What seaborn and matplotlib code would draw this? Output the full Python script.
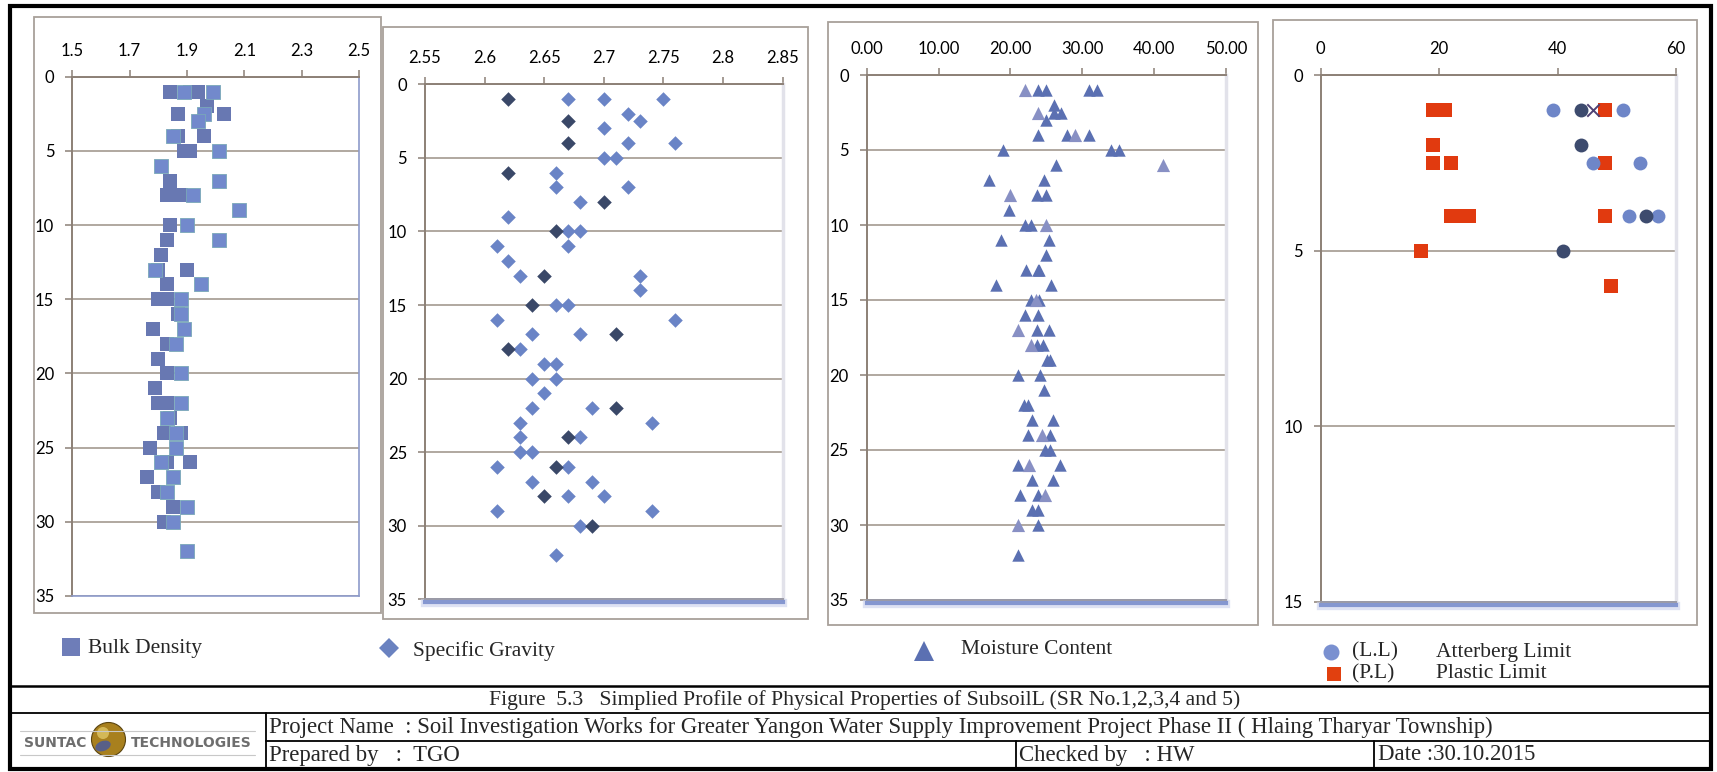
import numpy as np
import pandas as pd
import matplotlib
matplotlib.use("Agg")
import matplotlib.pyplot as plt
import seaborn as sns
from matplotlib.lines import Line2D
from matplotlib.patches import Rectangle, Circle, Ellipse
import matplotlib.patheffects as pe

# ---------------- DATA ----------------
# Bulk density (g/cm3) vs depth (m)
bd_dark_depth = [1, 1, 1, 2, 2.5, 2.5, 4, 4, 5, 5, 7, 8, 8, 10, 11, 12, 13, 13, 14, 15, 15, 16, 17,
                 18, 19, 20, 21, 22, 22, 23, 24, 24, 25, 26, 26, 27, 28, 29, 30]
bd_dark = [1.84, 1.91, 1.94, 1.97, 1.87, 2.03, 1.87, 1.96, 1.89, 1.91, 1.84, 1.83, 1.88, 1.84, 1.83,
           1.81, 1.80, 1.90, 1.83, 1.80, 1.83, 1.87, 1.78, 1.83, 1.80, 1.83, 1.79, 1.80, 1.83, 1.84,
           1.82, 1.88, 1.77, 1.83, 1.91, 1.76, 1.80, 1.85, 1.82]
bd_light_depth = [1, 1, 2.5, 3, 4, 5, 6, 7, 8, 9, 10, 11, 13, 14, 15, 16, 17, 18, 20, 22, 23, 24,
                  25, 26, 27, 28, 29, 30, 32]
bd_light = [1.89, 1.99, 1.96, 1.94, 1.85, 2.01, 1.81, 2.01, 1.92, 2.08, 1.90, 2.01, 1.79, 1.95,
            1.88, 1.88, 1.89, 1.86, 1.88, 1.88, 1.83, 1.86, 1.86, 1.81, 1.85, 1.83, 1.90, 1.85, 1.90]

# Specific gravity vs depth
sg_light_depth = [1, 1, 1, 2, 2.5, 3, 4, 4, 5, 5, 6, 7, 7, 8, 9, 10, 10, 11, 11, 12, 13, 13, 14,
                  15, 15, 16, 16, 17, 17, 18, 19, 19, 20, 20, 21, 22, 22, 23, 23, 24, 24, 25, 25,
                  26, 26, 27, 27, 28, 28, 29, 29, 30, 32]
sg_light = [2.67, 2.70, 2.75, 2.72, 2.73, 2.70, 2.72, 2.76, 2.70, 2.71, 2.66, 2.66, 2.72, 2.68,
            2.62, 2.67, 2.68, 2.61, 2.67, 2.62, 2.63, 2.73, 2.73, 2.66, 2.67, 2.61, 2.76, 2.64,
            2.68, 2.63, 2.65, 2.66, 2.64, 2.66, 2.65, 2.64, 2.69, 2.63, 2.74, 2.63, 2.68, 2.63,
            2.64, 2.61, 2.67, 2.64, 2.69, 2.67, 2.70, 2.61, 2.74, 2.68, 2.66]
sg_dark_depth = [1, 2.5, 4, 6, 8, 10, 13, 15, 17, 18, 22, 24, 26, 28, 30]
sg_dark = [2.62, 2.67, 2.67, 2.62, 2.70, 2.66, 2.65, 2.64, 2.71, 2.62, 2.71, 2.67, 2.66, 2.65, 2.69]

# Moisture content (%) vs depth
mc_main_depth = [1, 1, 1, 1, 2, 2.5, 2.5, 3, 4, 4, 4, 5, 5, 5, 6, 7, 7, 8, 8, 9, 10, 10, 11, 11,
                 12, 13, 13, 13, 14, 14, 15, 15, 16, 16, 17, 17, 18, 18, 19, 19, 20, 20, 21, 22,
                 22, 23, 23, 24, 24, 25, 25, 26, 26, 27, 27, 28, 28, 29, 29, 30, 32]
mc_main = [23.9, 25.0, 31.0, 32.0, 26.0, 26.0, 27.0, 25.0, 23.9, 27.9, 31.0, 18.9, 34.0, 35.1,
           26.3, 17.0, 24.7, 23.7, 24.9, 19.8, 22.0, 22.9, 18.7, 25.3, 25.0, 22.2, 23.8, 24.0,
           18.0, 25.7, 22.9, 24.0, 22.0, 23.9, 23.7, 25.4, 23.7, 24.5, 25.1, 25.5, 21.0, 24.1,
           24.7, 21.9, 22.4, 23.0, 25.9, 22.5, 25.5, 24.8, 25.5, 21.0, 26.9, 23.0, 25.9, 21.3,
           23.9, 23.0, 23.9, 23.8, 21.0]
mc_light_depth = [1, 2.5, 4, 6, 8, 10, 15, 17, 18, 24, 26, 28, 30]
mc_light = [22.0, 23.9, 29.0, 41.2, 19.9, 25.0, 23.6, 21.0, 22.9, 24.4, 22.6, 24.8, 21.0]

# Atterberg limits vs depth
ll_light_depth = [1, 1, 2.5, 2.5, 4, 4]
ll_light = [39.2, 51.0, 46.0, 54.0, 52.0, 57.0]
ll_dark_depth = [1, 2, 4, 5]
ll_dark = [44.0, 44.0, 55.0, 41.0]
ll_x_depth = [1]
ll_x = [46.0]
pl_depth = [1, 1, 1, 1, 2, 2.5, 2.5, 2.5, 4, 4, 4, 4, 5, 6]
pl = [19.0, 20.0, 21.0, 48.0, 19.0, 19.0, 22.0, 48.0, 22.0, 24.0, 25.0, 48.0, 17.0, 49.0]

bd_ticks = [1.5, 1.7, 1.9, 2.1, 2.3, 2.5]
bd_labels = ["1.5", "1.7", "1.9", "2.1", "2.3", "2.5"]
sg_ticks = [2.55, 2.6, 2.65, 2.7, 2.75, 2.8, 2.85]
sg_labels = ["2.55", "2.6", "2.65", "2.7", "2.75", "2.8", "2.85"]
mc_ticks = [0, 10, 20, 30, 40, 50]
mc_labels = ["0.00", "10.00", "20.00", "30.00", "40.00", "50.00"]
at_ticks = [0, 20, 40, 60]
at_labels = ["0", "20", "40", "60"]

legend_labels = ["Bulk Density", "Specific Gravity", "Moisture Content"]
fig_title = "Figure  5.3   Simplied Profile of Physical Properties of SubsoilL (SR No.1,2,3,4 and 5)"
project_text = "Project Name  : Soil Investigation Works for Greater Yangon Water Supply Improvement Project Phase II ( Hlaing Tharyar Township)"
prepared_text = "Prepared by   :  TGO"
checked_text = "Checked by   : HW"
date_text = "Date :30.10.2015"

# ---------------- FIGURE ----------------
W, H = 1717, 772
sns.set_theme(style="white")
plt.rcParams["font.family"] = ["Lato", "DejaVu Sans"]
SERIF = ["Liberation Serif", "DejaVu Serif"]

fig = plt.figure(figsize=(W / 100, H / 100), dpi=100)
fig.patch.set_facecolor("white")

# overlay for frames / table (pixel coordinates)
ov = fig.add_axes([0, 0, 1, 1], zorder=-5)
ov.set_xlim(0, W)
ov.set_ylim(H, 0)
ov.axis("off")


def rect(x0, x1, y0, y1):
    return [x0 / W, 1 - y1 / H, (x1 - x0) / W, (y1 - y0) / H]


SPINE = "#8C8076"
GRID = "#A39A90"


def style(ax, xlim, ticks, labels, ymax, p1=False):
    ax.set_xlim(*xlim)
    ax.set_ylim(ymax, 0)
    ax.xaxis.tick_top()
    ax.set_xticks(ticks)
    ax.set_xticklabels(labels)
    ax.set_yticks(np.arange(0, ymax + 1, 5))
    ax.set_yticklabels([str(v) for v in np.arange(0, ymax + 1, 5)])
    ax.set_xlabel("")
    ax.set_ylabel("")
    ax.tick_params(axis="both", which="both", direction="out", length=5, width=1.1,
                   color=SPINE, pad=8, labelsize=12, labelcolor="black")
    ax.tick_params(axis="x", top=True, bottom=False, labeltop=True, labelbottom=False)
    ax.tick_params(axis="y", left=True, right=False)
    ax.yaxis.grid(True, color=GRID, lw=1.2)
    ax.xaxis.grid(False)
    ax.set_axisbelow(True)
    for s in ["left", "top"]:
        ax.spines[s].set_color(SPINE)
        ax.spines[s].set_linewidth(1.4)
    if p1:
        for s in ["right", "bottom"]:
            ax.spines[s].set_color("#8D9BCB")
            ax.spines[s].set_linewidth(1.2)
    else:
        ax.spines["right"].set_color("#E2E2EA")
        ax.spines["right"].set_linewidth(2.5)
        ax.spines["bottom"].set_color("#9A9AA6")
        ax.spines["bottom"].set_linewidth(1.4)
        ax.spines["bottom"].set_path_effects([
            pe.Stroke(linewidth=6, foreground="#C8D0EC", alpha=0.6, offset=(0, -3)),
            pe.Stroke(linewidth=3, foreground="#6F84C8", alpha=0.8, offset=(0, -2)),
            pe.Normal()])


# Panel 1: Bulk density
ax1 = fig.add_axes(rect(72.3, 359, 76.7, 596))
sns.scatterplot(data=pd.DataFrame({"v": bd_dark, "d": bd_dark_depth}), x="v", y="d", ax=ax1,
                marker="s", s=95, color="#6878B2", linewidth=0, zorder=3)
sns.scatterplot(data=pd.DataFrame({"v": bd_light, "d": bd_light_depth}), x="v", y="d", ax=ax1,
                marker="s", s=95, color="#7289CC", edgecolor="#79A8B8", linewidth=0.6, zorder=4)
style(ax1, (1.5, 2.5), bd_ticks, bd_labels, 35, p1=True)

# Panel 2: Specific gravity
ax2 = fig.add_axes(rect(425, 782.7, 84.3, 599.3))
sns.scatterplot(data=pd.DataFrame({"v": sg_light, "d": sg_light_depth}), x="v", y="d", ax=ax2,
                marker="D", s=55, color="#6A84C6", linewidth=0, zorder=3)
sns.scatterplot(data=pd.DataFrame({"v": sg_dark, "d": sg_dark_depth}), x="v", y="d", ax=ax2,
                marker="D", s=55, color="#3A4868", linewidth=0, zorder=4)
style(ax2, (2.55, 2.85), sg_ticks, sg_labels, 35)

# Panel 3: Moisture content
ax3 = fig.add_axes(rect(866.7, 1226, 75, 600))
sns.scatterplot(data=pd.DataFrame({"v": mc_main, "d": mc_main_depth}), x="v", y="d", ax=ax3,
                marker="^", s=80, color="#5B70B2", linewidth=0, zorder=3)
sns.scatterplot(data=pd.DataFrame({"v": mc_light, "d": mc_light_depth}), x="v", y="d", ax=ax3,
                marker="^", s=90, color="#8890C4", linewidth=0, zorder=4)
style(ax3, (0, 50), mc_ticks, mc_labels, 35)

# Panel 4: Atterberg limits
ax4 = fig.add_axes(rect(1320.7, 1676, 75, 602))
sns.scatterplot(data=pd.DataFrame({"v": pl, "d": pl_depth}), x="v", y="d", ax=ax4,
                marker="s", s=110, color="#E13A0F", linewidth=0, zorder=3)
sns.scatterplot(data=pd.DataFrame({"v": ll_light, "d": ll_light_depth}), x="v", y="d", ax=ax4,
                marker="o", s=100, color="#6E86C8", linewidth=0, zorder=4)
sns.scatterplot(data=pd.DataFrame({"v": ll_dark, "d": ll_dark_depth}), x="v", y="d", ax=ax4,
                marker="o", s=100, color="#3D4B6E", linewidth=0, zorder=5)
sns.scatterplot(data=pd.DataFrame({"v": ll_x, "d": ll_x_depth}), x="v", y="d", ax=ax4,
                marker="x", s=80, color="#4E4275", linewidth=1.4, zorder=5)
style(ax4, (0, 60), at_ticks, at_labels, 15)

# ---------------- FRAMES ----------------
FRAME = "#A8A09A"
for (x0, y0, x1, y1) in [(34, 17, 381, 613), (383, 27, 808, 619), (828, 22, 1258, 625),
                         (1273, 20, 1697, 625)]:
    ov.add_patch(Rectangle((x0, y0), x1 - x0, y1 - y0, fill=False, ec=FRAME, lw=1.3))

# ---------------- LEGENDS ----------------
LFS = 15.5
ov.add_line(Line2D([70.7], [647], marker="s", ms=12.5, color="#6E7DB8", mew=0, ls=""))
ov.text(88, 649, legend_labels[0], family=SERIF, fontsize=LFS, va="center", ha="left")
ov.add_line(Line2D([389], [648], marker="D", ms=10, color="#6A82C0", mew=0, ls=""))
ov.text(413, 651, legend_labels[1], family=SERIF, fontsize=LFS, va="center", ha="left")
ov.add_line(Line2D([924], [651], marker="^", ms=14, color="#5B70B2", mew=0, ls=""))
ov.text(961, 649, legend_labels[2], family=SERIF, fontsize=LFS, va="center", ha="left")
ov.add_line(Line2D([1331], [652], marker="o", ms=11.5, color="#7A90D0", mew=0, ls=""))
ov.text(1352, 652, "(L.L)", family=SERIF, fontsize=LFS, va="center", ha="left")
ov.text(1436, 652, "Atterberg Limit", family=SERIF, fontsize=LFS, va="center", ha="left")
ov.add_line(Line2D([1334], [674], marker="s", ms=10, color="#E1400F", mew=0, ls=""))
ov.text(1352, 674, "(P.L)", family=SERIF, fontsize=LFS, va="center", ha="left")
ov.text(1436, 674, "Plastic Limit", family=SERIF, fontsize=LFS, va="center", ha="left")

# ---------------- TITLE BLOCK ----------------
K = "black"
ov.add_patch(Rectangle((9.5, 5.5), 1711 - 9.5, 769 - 5.5, fill=False, ec=K, lw=3))
ov.add_line(Line2D([9.5, 1711], [686, 686], color=K, lw=1.8))
ov.add_line(Line2D([9.5, 1711], [713, 713], color=K, lw=1.3))
ov.add_line(Line2D([266, 1711], [741, 741], color=K, lw=1.3))
ov.add_line(Line2D([266, 266], [713, 769], color=K, lw=1.3))
ov.add_line(Line2D([1016, 1016], [741, 769], color=K, lw=1.3))
ov.add_line(Line2D([1374, 1374], [741, 769], color=K, lw=1.3))

ov.text(489, 700, fig_title, family=SERIF, fontsize=15.6, va="center", ha="left")
ov.text(269, 727, project_text, family=SERIF, fontsize=16.4, va="center", ha="left")
ov.text(269, 755, prepared_text, family=SERIF, fontsize=16.4, va="center", ha="left")
ov.text(1019, 755, checked_text, family=SERIF, fontsize=16.4, va="center", ha="left")
ov.text(1378, 755, date_text, family=SERIF, fontsize=16.4, va="center", ha="left")

# logo
ov.add_line(Line2D([20, 255], [731, 731], color="#C8C8C8", lw=0.8))
ov.add_line(Line2D([20, 255], [755, 755], color="#C8C8C8", lw=0.8))
ov.text(55, 743, "SUNTAC", family=["DejaVu Sans"], fontsize=10, fontweight="bold",
        color="#6E6E6E", va="center", ha="center")
ov.text(191, 743, "TECHNOLOGIES", family=["DejaVu Sans"], fontsize=10, fontweight="bold",
        color="#6E6E6E", va="center", ha="center")
ov.add_patch(Circle((108.5, 739.5), 17, fc="#A8801E", ec="#5A4410", lw=0.8))
ov.add_patch(Ellipse((103, 746), 16, 10, angle=-20, fc="#4A5A9A", ec="none", alpha=0.85))
ov.add_patch(Circle((103, 733), 6, fc="#E8D070", ec="none", alpha=0.7))

fig.savefig("out.png", dpi=100, facecolor="white")
